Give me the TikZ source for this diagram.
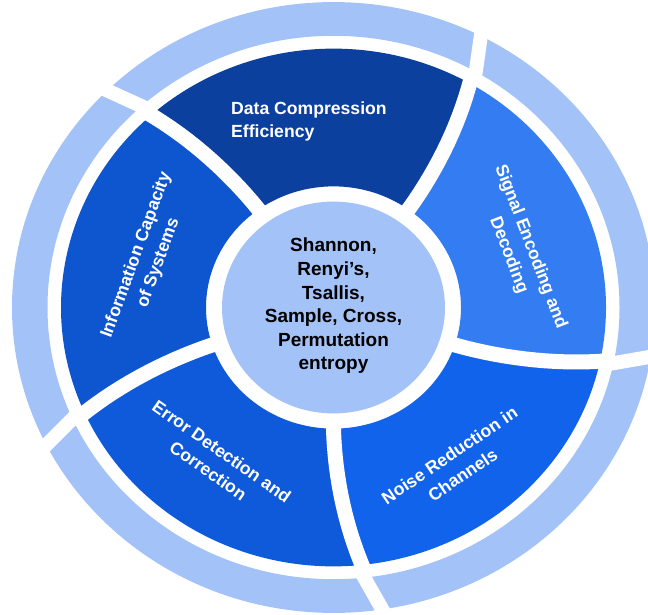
\documentclass[tikz,border=0pt]{standalone}
\usepackage{fontspec}
\setmainfont{Liberation Sans}
\definecolor{ringc}{HTML}{A3C2F8}
\definecolor{cdata}{HTML}{0B409F}
\definecolor{cinfo}{HTML}{0E55D0}
\definecolor{cerror}{HTML}{0F5ADA}
\definecolor{cnoise}{HTML}{1163EB}
\definecolor{csignal}{HTML}{347CF1}
\tikzset{
  seglabel/.style={text=white, font=\fontsize{17.6}{23.5}\selectfont\bfseries, align=center, inner sep=0pt},
  hublabel/.style={text=black, font=\fontsize{19}{23.6}\selectfont\bfseries, align=center, inner sep=0pt},
  gapline/.style={white, line width=15pt},
  ringgap/.style={white, line width=14pt}
}
\begin{document}
\begin{tikzpicture}[x=1pt,y=1pt]
\useasboundingbox (0,0) rectangle (648,614);
\clip (0,0) rectangle (648,614);
\fill[white] (0,0) rectangle (648,614);
\begin{scope}[shift={(333.5,306.5)}, yscale=0.95]
  % outer light ring
  \fill[ringc, even odd rule] (0,0) circle[radius=321.5pt] (0,0) circle[radius=286pt];
  % coloured segments
  \foreach \a/\col in {54/cdata,126/cinfo,198/cerror,270/cnoise,342/csignal}{
    \pgfmathsetmacro\b{\a+72}
    \fill[\col] plot[domain=127.5:272.5,samples=16,variable=\r] ({\a+6*((\r-127.5)/145)^1.4}:{\r pt})
      arc[start angle=\a+6, end angle=\b+6, radius=272.5pt]
      -- plot[domain=272.5:127.5,samples=16,variable=\r] ({\b+6*((\r-127.5)/145)^1.4}:{\r pt})
      arc[start angle=\b, end angle=\a, radius=127.5pt] -- cycle;
  }
  % white gaps
  \foreach \a in {54,126,198,270,342}{
    \draw[gapline] plot[domain=127.5:279,samples=16,variable=\r] ({\a+6*((\r-127.5)/145)^1.4}:{\r pt});
    \draw[gapline] (\a:105pt) -- (\a:128pt);
    \draw[ringgap] ({\a+5.5}:278pt) -- ({\a+9.6}:336pt);
  }
  % hub
  \fill[ringc] (0,0) circle[radius=111.5pt];
\end{scope}
\node[hublabel] (hub) at (333.5,308) {Shannon,\\Renyi’s,\\Tsallis,\\Sample, Cross,\\Permutation\\entropy};
\node[seglabel, align=left, anchor=west] (data) at (231,492.5) {Data Compression\\Efficiency};
\node[seglabel, rotate=-69] (signal) at (519.5,363) {Signal Encoding and\\Decoding};
\node[seglabel, rotate=34] (noise) at (456,149) {Noise Reduction in\\Channels};
\node[seglabel, rotate=-35] (error) at (215,153) {Error Detection and\\Correction};
\node[seglabel, rotate=70] (info) at (147.5,355) {Information Capacity\\of Systems};
\end{tikzpicture}
\end{document}
